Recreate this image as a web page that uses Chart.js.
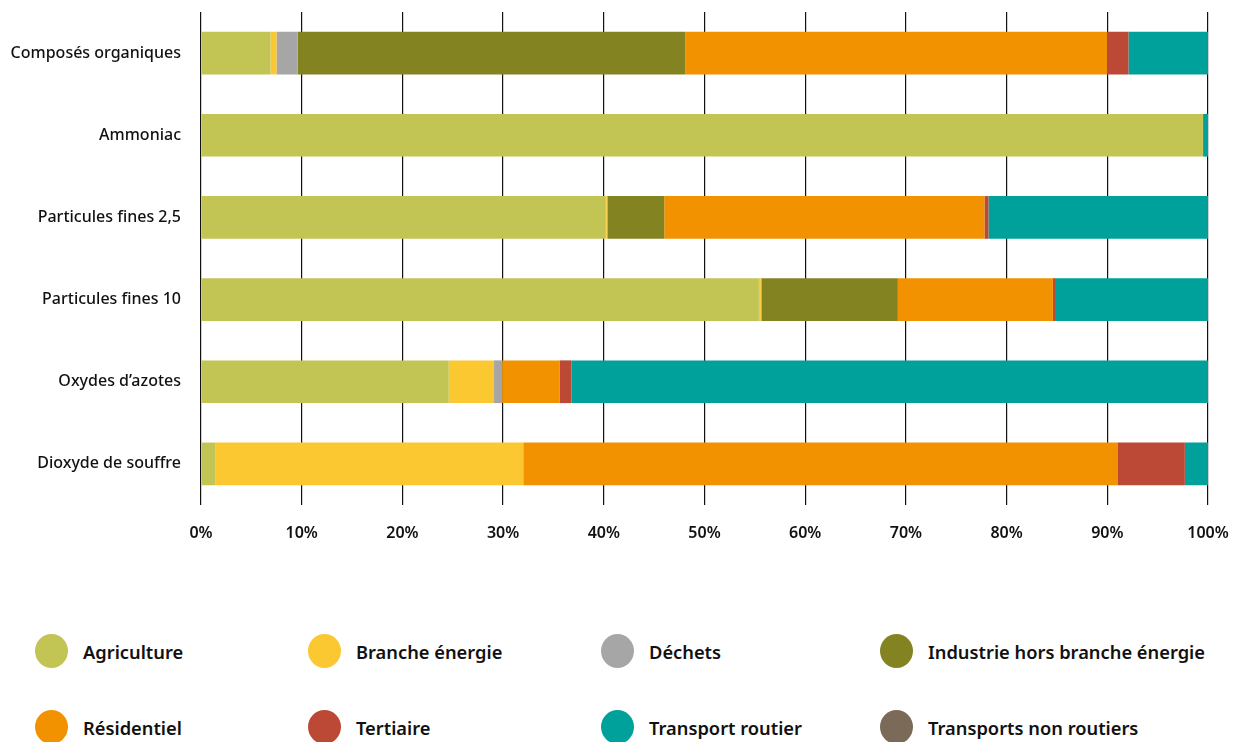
<!DOCTYPE html>
<html>
<head>
<meta charset="utf-8">
<script src="https://cdn.jsdelivr.net/npm/chart.js@4/dist/chart.umd.min.js"></script>
<style>
  body { margin: 0; background: #fff; font-family: "Noto Sans", sans-serif; }
  #wrap { position: relative; width: 1238px; height: 742px; overflow: hidden; }
  #box { position: absolute; left: 0; top: 0; width: 1238px; height: 560px; }
  #legend { position: absolute; left: 35px; top: 634px; display: grid;
            grid-template-columns: 273px 293px 279px 330px; row-gap: 42px; }
  .item { display: flex; align-items: center; height: 34px; }
  .dot { width: 33px; height: 34px; border-radius: 50%; margin-right: 15px; flex: none; }
  .lbl { font-size: 18.3px; font-weight: 600; color: #111; white-space: nowrap; }
</style>
</head>
<body>
<div id="wrap">
  <div id="box"><canvas id="chart"></canvas></div>
  <div id="legend"></div>
</div>
<script>
const categories = ["Composés organiques", "Ammoniac", "Particules fines 2,5", "Particules fines 10", "Oxydes d’azotes", "Dioxyde de souffre"];
const agriculture   = [6.9, 99.5, 40.2, 55.4, 24.6, 1.4];
const brancheEnergie = [0.6, 0, 0.1, 0.2, 4.5, 30.6];
const dechets       = [2.1, 0, 0.1, 0.1, 0.8, 0];
const industrie     = [38.5, 0.1, 5.6, 13.5, 0, 0];
const residentiel   = [41.9, 0, 31.8, 15.4, 5.7, 59.0];
const tertiaire     = [2.1, 0, 0.4, 0.3, 1.2, 6.7];
const transportRoutier = [7.8, 0.4, 21.7, 15.0, 63.1, 2.2];
const transportsNonRoutiers = [0.1, 0, 0.1, 0.1, 0.1, 0.1];
const tickValues = [0, 10, 20, 30, 40, 50, 60, 70, 80, 90, 100];

const series = [
  { label: "Agriculture", data: agriculture, color: "#c2c453" },
  { label: "Branche énergie", data: brancheEnergie, color: "#fcc832" },
  { label: "Déchets", data: dechets, color: "#a6a6a6" },
  { label: "Industrie hors branche énergie", data: industrie, color: "#838321" },
  { label: "Résidentiel", data: residentiel, color: "#f29200" },
  { label: "Tertiaire", data: tertiaire, color: "#bb4936" },
  { label: "Transport routier", data: transportRoutier, color: "#00a19a" },
  { label: "Transports non routiers", data: transportsNonRoutiers, color: "#7a6a57" }
];

const ctx = document.getElementById("chart").getContext("2d");
const chart = new Chart(ctx, {
  type: "bar",
  data: {
    labels: categories,
    datasets: series.map(s => ({
      label: s.label,
      data: s.data,
      backgroundColor: s.color,
      borderWidth: 0,
      barPercentage: 0.52,
      categoryPercentage: 1
    }))
  },
  options: {
    indexAxis: "y",
    responsive: true,
    maintainAspectRatio: false,
    animation: false,
    layout: { padding: { top: 12, right: 30, left: 0, bottom: 0 } },
    plugins: { legend: { display: false }, tooltip: { enabled: false } },
    scales: {
      x: {
        stacked: true,
        min: 0,
        max: 100,
        z: 1,
        afterBuildTicks: function(scale) {
          scale.ticks = tickValues.map(v => ({ value: v }));
        },
        afterFit: function(scale) {
          scale.height = 55;
          scale.paddingLeft = 0;
          scale.paddingRight = 0;
        },
        border: { display: false },
        grid: { color: "#111", lineWidth: 1.2, drawTicks: false },
        ticks: {
          padding: 19,
          color: "#111",
          font: { family: "Noto Sans", size: 16, weight: "600" },
          callback: v => v + "%"
        }
      },
      y: {
        stacked: true,
        afterFit: function(scale) {
          scale.width = 201;
          scale.paddingTop = 0;
          scale.paddingBottom = 0;
        },
        border: { display: false },
        grid: { display: false },
        ticks: {
          padding: 12,
          color: "#111",
          font: { family: "Noto Sans", size: 16, weight: "500" }
        }
      }
    }
  }
});

const legend = document.getElementById("legend");
series.forEach(s => {
  const item = document.createElement("div");
  item.className = "item";
  item.innerHTML = '<span class="dot" style="background:' + s.color + '"></span><span class="lbl">' + s.label + '</span>';
  legend.appendChild(item);
});
</script>
</body>
</html>
